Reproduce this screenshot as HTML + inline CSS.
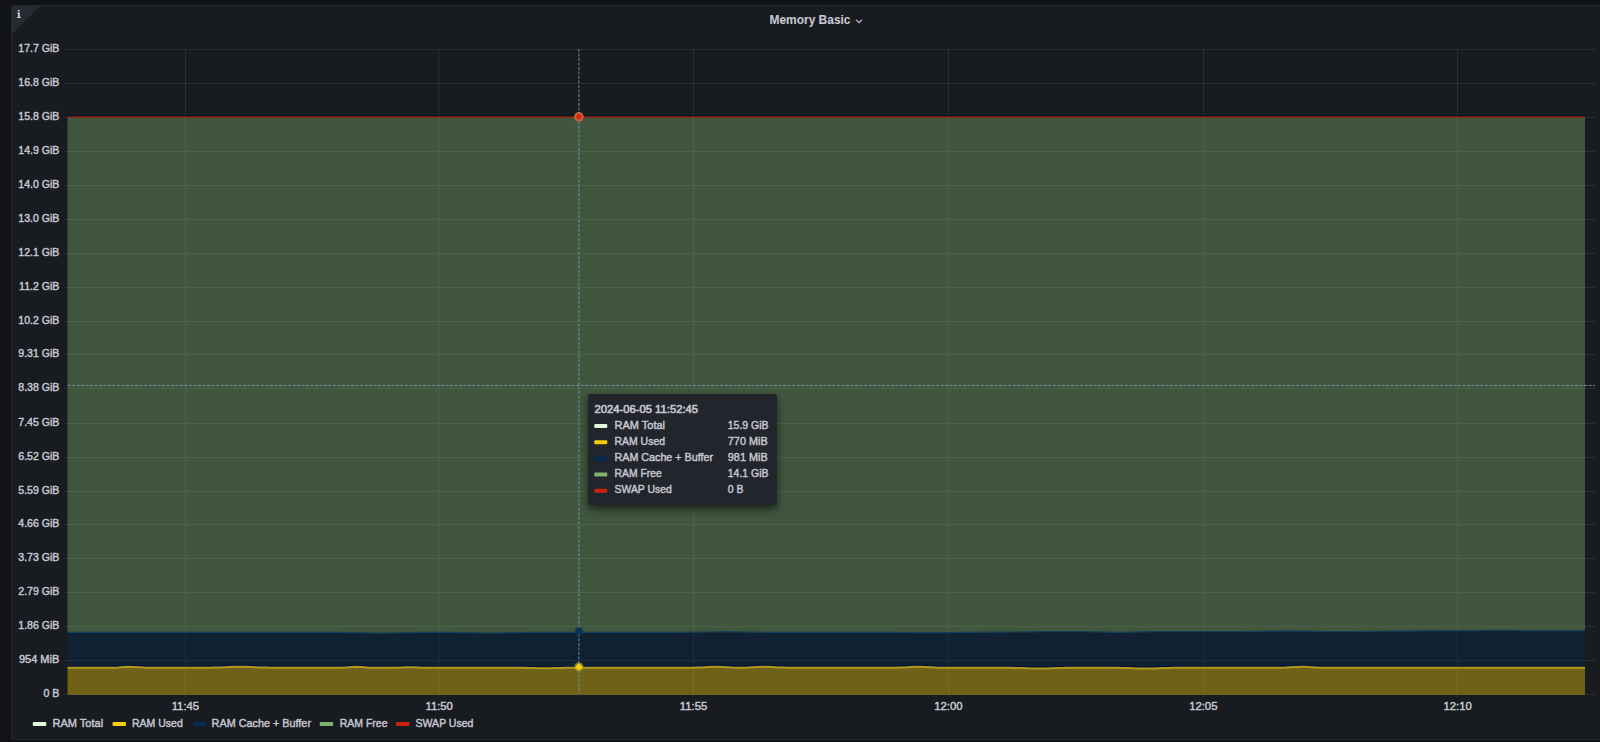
<!DOCTYPE html><html><head><meta charset="utf-8"><style>
html,body{margin:0;padding:0;width:1600px;height:742px;overflow:hidden;background:#111217;font-family:"Liberation Sans", sans-serif;}
.panel{position:absolute;left:11px;top:5px;width:1600px;height:735px;background:#181b1f;border:1px solid #24272c;border-radius:2px;box-sizing:border-box;}
svg{position:absolute;left:0;top:0;}
text{stroke:#c6c6d3;stroke-width:0.45px;paint-order:stroke;}
</style></head><body>
<div class="panel"></div>
<svg width="1600" height="742" viewBox="0 0 1600 742" font-family='"Liberation Sans", sans-serif'>

<path d="M13,6 L40,6 L12,34 L12,8 Z" fill="#262a31"/>
<path d="M17.8,9.9 H19.8 V11.5 H17.8 Z M17,12.4 H19.9 V16.9 H21 V18 H16.9 V16.9 H17.9 V13.4 H17 Z" fill="#c4c4d2"/>
<text x="769.5" y="24" font-size="13.5" font-weight="bold" style="stroke-width:0.1px" fill="#c6c6d3" textLength="81" lengthAdjust="spacingAndGlyphs">Memory Basic</text>
<path d="M856,19.8 L859,22.8 L862,19.8" fill="none" stroke="#a4a6b0" stroke-width="1.5"/>
<rect x="64" y="694" width="1531" height="1" fill="rgba(204,204,220,0.1)"/>
<rect x="64" y="660" width="1531" height="1" fill="rgba(204,204,220,0.1)"/>
<rect x="64" y="626" width="1531" height="1" fill="rgba(204,204,220,0.1)"/>
<rect x="64" y="592" width="1531" height="1" fill="rgba(204,204,220,0.1)"/>
<rect x="64" y="558" width="1531" height="1" fill="rgba(204,204,220,0.1)"/>
<rect x="64" y="524" width="1531" height="1" fill="rgba(204,204,220,0.1)"/>
<rect x="64" y="491" width="1531" height="1" fill="rgba(204,204,220,0.1)"/>
<rect x="64" y="457" width="1531" height="1" fill="rgba(204,204,220,0.1)"/>
<rect x="64" y="423" width="1531" height="1" fill="rgba(204,204,220,0.1)"/>
<rect x="64" y="388" width="1531" height="1" fill="rgba(204,204,220,0.1)"/>
<rect x="64" y="354" width="1531" height="1" fill="rgba(204,204,220,0.1)"/>
<rect x="64" y="321" width="1531" height="1" fill="rgba(204,204,220,0.1)"/>
<rect x="64" y="287" width="1531" height="1" fill="rgba(204,204,220,0.1)"/>
<rect x="64" y="253" width="1531" height="1" fill="rgba(204,204,220,0.1)"/>
<rect x="64" y="219" width="1531" height="1" fill="rgba(204,204,220,0.1)"/>
<rect x="64" y="185" width="1531" height="1" fill="rgba(204,204,220,0.1)"/>
<rect x="64" y="151" width="1531" height="1" fill="rgba(204,204,220,0.1)"/>
<rect x="64" y="117" width="1531" height="1" fill="rgba(204,204,220,0.1)"/>
<rect x="64" y="83" width="1531" height="1" fill="rgba(204,204,220,0.1)"/>
<rect x="64" y="49" width="1531" height="1" fill="rgba(204,204,220,0.1)"/>
<rect x="185" y="49" width="1" height="648" fill="rgba(204,204,220,0.1)"/>
<rect x="438.5" y="49" width="1" height="648" fill="rgba(204,204,220,0.1)"/>
<rect x="693" y="49" width="1" height="648" fill="rgba(204,204,220,0.1)"/>
<rect x="948" y="49" width="1" height="648" fill="rgba(204,204,220,0.1)"/>
<rect x="1203" y="49" width="1" height="648" fill="rgba(204,204,220,0.1)"/>
<rect x="1457" y="49" width="1" height="648" fill="rgba(204,204,220,0.1)"/>
<path d="M67.5,667.80 L72.6,667.80 L77.7,667.80 L82.7,667.80 L87.8,667.80 L92.9,667.80 L98.0,667.80 L103.0,667.79 L108.1,667.76 L113.2,667.66 L118.3,667.42 L123.3,667.07 L128.4,666.82 L133.5,666.88 L138.6,667.20 L143.6,667.52 L148.7,667.71 L153.8,667.78 L158.9,667.80 L163.9,667.80 L169.0,667.80 L174.1,667.80 L179.2,667.80 L184.2,667.80 L189.3,667.80 L194.4,667.79 L199.5,667.78 L204.5,667.76 L209.6,667.70 L214.7,667.60 L219.8,667.44 L224.8,667.24 L229.9,667.02 L235.0,666.86 L240.1,666.80 L245.1,666.86 L250.2,667.03 L255.3,667.24 L260.4,667.45 L265.4,667.60 L270.5,667.70 L275.6,667.76 L280.7,667.78 L285.7,667.79 L290.8,667.80 L295.9,667.80 L301.0,667.80 L306.0,667.80 L311.1,667.80 L316.2,667.80 L321.3,667.80 L326.3,667.80 L331.4,667.80 L336.5,667.78 L341.6,667.68 L346.6,667.38 L351.7,666.97 L356.8,666.81 L361.9,667.09 L366.9,667.50 L372.0,667.72 L377.1,667.79 L382.2,667.80 L387.2,667.80 L392.3,667.77 L397.4,667.66 L402.5,667.40 L407.5,667.14 L412.6,667.15 L417.7,667.41 L422.8,667.66 L427.8,667.77 L432.9,667.80 L438.0,667.80 L443.1,667.80 L448.1,667.80 L453.2,667.80 L458.3,667.80 L463.4,667.80 L468.4,667.80 L473.5,667.80 L478.6,667.80 L483.7,667.80 L488.7,667.80 L493.8,667.80 L498.9,667.80 L504.0,667.80 L509.0,667.80 L514.1,667.80 L519.2,667.82 L524.3,667.86 L529.3,667.94 L534.4,668.08 L539.5,668.23 L544.6,668.30 L549.6,668.25 L554.7,668.11 L559.8,667.96 L564.9,667.87 L569.9,667.82 L575.0,667.81 L580.1,667.80 L585.2,667.80 L590.3,667.80 L595.3,667.80 L600.4,667.80 L605.5,667.80 L610.6,667.80 L615.6,667.80 L620.7,667.80 L625.8,667.80 L630.9,667.80 L635.9,667.80 L641.0,667.80 L646.1,667.80 L651.2,667.80 L656.2,667.80 L661.3,667.80 L666.4,667.80 L671.5,667.80 L676.5,667.80 L681.6,667.80 L686.7,667.78 L691.8,667.74 L696.8,667.61 L701.9,667.38 L707.0,667.08 L712.1,666.84 L717.1,666.82 L722.2,667.03 L727.3,667.34 L732.4,667.58 L737.4,667.70 L742.5,667.70 L747.6,667.58 L752.7,667.34 L757.7,667.04 L762.8,666.82 L767.9,666.84 L773.0,667.08 L778.0,667.38 L783.1,667.61 L788.2,667.74 L793.3,667.78 L798.3,667.80 L803.4,667.80 L808.5,667.80 L813.6,667.80 L818.6,667.80 L823.7,667.80 L828.8,667.80 L833.9,667.80 L838.9,667.80 L844.0,667.80 L849.1,667.80 L854.2,667.80 L859.2,667.80 L864.3,667.80 L869.4,667.80 L874.5,667.80 L879.5,667.80 L884.6,667.80 L889.7,667.78 L894.8,667.74 L899.8,667.61 L904.9,667.38 L910.0,667.08 L915.1,666.84 L920.1,666.82 L925.2,667.03 L930.3,667.34 L935.4,667.59 L940.4,667.72 L945.5,667.78 L950.6,667.80 L955.7,667.80 L960.7,667.80 L965.8,667.80 L970.9,667.80 L976.0,667.80 L981.0,667.80 L986.1,667.80 L991.2,667.80 L996.3,667.80 L1001.3,667.80 L1006.4,667.81 L1011.5,667.83 L1016.6,667.89 L1021.6,668.01 L1026.7,668.20 L1031.8,668.42 L1036.9,668.57 L1041.9,668.59 L1047.0,668.46 L1052.1,668.25 L1057.2,668.05 L1062.2,667.92 L1067.3,667.84 L1072.4,667.81 L1077.5,667.80 L1082.6,667.80 L1087.6,667.80 L1092.7,667.80 L1097.8,667.80 L1102.9,667.80 L1107.9,667.80 L1113.0,667.81 L1118.1,667.85 L1123.2,667.92 L1128.2,668.07 L1133.3,668.27 L1138.4,668.47 L1143.5,668.59 L1148.5,668.56 L1153.6,668.40 L1158.7,668.19 L1163.8,668.00 L1168.8,667.89 L1173.9,667.83 L1179.0,667.81 L1184.1,667.80 L1189.1,667.80 L1194.2,667.80 L1199.3,667.80 L1204.4,667.80 L1209.4,667.80 L1214.5,667.80 L1219.6,667.80 L1224.7,667.80 L1229.7,667.80 L1234.8,667.80 L1239.9,667.80 L1245.0,667.80 L1250.0,667.80 L1255.1,667.80 L1260.2,667.80 L1265.3,667.80 L1270.3,667.79 L1275.4,667.77 L1280.5,667.71 L1285.6,667.55 L1290.6,667.28 L1295.7,666.98 L1300.8,666.81 L1305.9,666.87 L1310.9,667.13 L1316.0,667.43 L1321.1,667.64 L1326.2,667.75 L1331.2,667.79 L1336.3,667.80 L1341.4,667.80 L1346.5,667.80 L1351.5,667.80 L1356.6,667.80 L1361.7,667.80 L1366.8,667.80 L1371.8,667.80 L1376.9,667.80 L1382.0,667.80 L1387.1,667.80 L1392.1,667.80 L1397.2,667.80 L1402.3,667.80 L1407.4,667.80 L1412.4,667.80 L1417.5,667.80 L1422.6,667.80 L1427.7,667.80 L1432.7,667.80 L1437.8,667.80 L1442.9,667.80 L1448.0,667.80 L1453.0,667.80 L1458.1,667.80 L1463.2,667.80 L1468.3,667.80 L1473.3,667.80 L1478.4,667.80 L1483.5,667.80 L1488.6,667.80 L1493.6,667.80 L1498.7,667.80 L1503.8,667.80 L1508.9,667.80 L1513.9,667.80 L1519.0,667.80 L1524.1,667.80 L1529.2,667.80 L1534.2,667.80 L1539.3,667.80 L1544.4,667.80 L1549.5,667.80 L1554.5,667.80 L1559.6,667.80 L1564.7,667.80 L1569.8,667.80 L1574.8,667.80 L1579.9,667.80 L1585.0,667.80 L1585.0,694.80 L1579.9,694.80 L1574.8,694.80 L1569.8,694.80 L1564.7,694.80 L1559.6,694.80 L1554.5,694.80 L1549.5,694.80 L1544.4,694.80 L1539.3,694.80 L1534.2,694.80 L1529.2,694.80 L1524.1,694.80 L1519.0,694.80 L1513.9,694.80 L1508.9,694.80 L1503.8,694.80 L1498.7,694.80 L1493.6,694.80 L1488.6,694.80 L1483.5,694.80 L1478.4,694.80 L1473.3,694.80 L1468.3,694.80 L1463.2,694.80 L1458.1,694.80 L1453.0,694.80 L1448.0,694.80 L1442.9,694.80 L1437.8,694.80 L1432.7,694.80 L1427.7,694.80 L1422.6,694.80 L1417.5,694.80 L1412.4,694.80 L1407.4,694.80 L1402.3,694.80 L1397.2,694.80 L1392.1,694.80 L1387.1,694.80 L1382.0,694.80 L1376.9,694.80 L1371.8,694.80 L1366.8,694.80 L1361.7,694.80 L1356.6,694.80 L1351.5,694.80 L1346.5,694.80 L1341.4,694.80 L1336.3,694.80 L1331.2,694.80 L1326.2,694.80 L1321.1,694.80 L1316.0,694.80 L1310.9,694.80 L1305.9,694.80 L1300.8,694.80 L1295.7,694.80 L1290.6,694.80 L1285.6,694.80 L1280.5,694.80 L1275.4,694.80 L1270.3,694.80 L1265.3,694.80 L1260.2,694.80 L1255.1,694.80 L1250.0,694.80 L1245.0,694.80 L1239.9,694.80 L1234.8,694.80 L1229.7,694.80 L1224.7,694.80 L1219.6,694.80 L1214.5,694.80 L1209.4,694.80 L1204.4,694.80 L1199.3,694.80 L1194.2,694.80 L1189.1,694.80 L1184.1,694.80 L1179.0,694.80 L1173.9,694.80 L1168.8,694.80 L1163.8,694.80 L1158.7,694.80 L1153.6,694.80 L1148.5,694.80 L1143.5,694.80 L1138.4,694.80 L1133.3,694.80 L1128.2,694.80 L1123.2,694.80 L1118.1,694.80 L1113.0,694.80 L1107.9,694.80 L1102.9,694.80 L1097.8,694.80 L1092.7,694.80 L1087.6,694.80 L1082.6,694.80 L1077.5,694.80 L1072.4,694.80 L1067.3,694.80 L1062.2,694.80 L1057.2,694.80 L1052.1,694.80 L1047.0,694.80 L1041.9,694.80 L1036.9,694.80 L1031.8,694.80 L1026.7,694.80 L1021.6,694.80 L1016.6,694.80 L1011.5,694.80 L1006.4,694.80 L1001.3,694.80 L996.3,694.80 L991.2,694.80 L986.1,694.80 L981.0,694.80 L976.0,694.80 L970.9,694.80 L965.8,694.80 L960.7,694.80 L955.7,694.80 L950.6,694.80 L945.5,694.80 L940.4,694.80 L935.4,694.80 L930.3,694.80 L925.2,694.80 L920.1,694.80 L915.1,694.80 L910.0,694.80 L904.9,694.80 L899.8,694.80 L894.8,694.80 L889.7,694.80 L884.6,694.80 L879.5,694.80 L874.5,694.80 L869.4,694.80 L864.3,694.80 L859.2,694.80 L854.2,694.80 L849.1,694.80 L844.0,694.80 L838.9,694.80 L833.9,694.80 L828.8,694.80 L823.7,694.80 L818.6,694.80 L813.6,694.80 L808.5,694.80 L803.4,694.80 L798.3,694.80 L793.3,694.80 L788.2,694.80 L783.1,694.80 L778.0,694.80 L773.0,694.80 L767.9,694.80 L762.8,694.80 L757.7,694.80 L752.7,694.80 L747.6,694.80 L742.5,694.80 L737.4,694.80 L732.4,694.80 L727.3,694.80 L722.2,694.80 L717.1,694.80 L712.1,694.80 L707.0,694.80 L701.9,694.80 L696.8,694.80 L691.8,694.80 L686.7,694.80 L681.6,694.80 L676.5,694.80 L671.5,694.80 L666.4,694.80 L661.3,694.80 L656.2,694.80 L651.2,694.80 L646.1,694.80 L641.0,694.80 L635.9,694.80 L630.9,694.80 L625.8,694.80 L620.7,694.80 L615.6,694.80 L610.6,694.80 L605.5,694.80 L600.4,694.80 L595.3,694.80 L590.3,694.80 L585.2,694.80 L580.1,694.80 L575.0,694.80 L569.9,694.80 L564.9,694.80 L559.8,694.80 L554.7,694.80 L549.6,694.80 L544.6,694.80 L539.5,694.80 L534.4,694.80 L529.3,694.80 L524.3,694.80 L519.2,694.80 L514.1,694.80 L509.0,694.80 L504.0,694.80 L498.9,694.80 L493.8,694.80 L488.7,694.80 L483.7,694.80 L478.6,694.80 L473.5,694.80 L468.4,694.80 L463.4,694.80 L458.3,694.80 L453.2,694.80 L448.1,694.80 L443.1,694.80 L438.0,694.80 L432.9,694.80 L427.8,694.80 L422.8,694.80 L417.7,694.80 L412.6,694.80 L407.5,694.80 L402.5,694.80 L397.4,694.80 L392.3,694.80 L387.2,694.80 L382.2,694.80 L377.1,694.80 L372.0,694.80 L366.9,694.80 L361.9,694.80 L356.8,694.80 L351.7,694.80 L346.6,694.80 L341.6,694.80 L336.5,694.80 L331.4,694.80 L326.3,694.80 L321.3,694.80 L316.2,694.80 L311.1,694.80 L306.0,694.80 L301.0,694.80 L295.9,694.80 L290.8,694.80 L285.7,694.80 L280.7,694.80 L275.6,694.80 L270.5,694.80 L265.4,694.80 L260.4,694.80 L255.3,694.80 L250.2,694.80 L245.1,694.80 L240.1,694.80 L235.0,694.80 L229.9,694.80 L224.8,694.80 L219.8,694.80 L214.7,694.80 L209.6,694.80 L204.5,694.80 L199.5,694.80 L194.4,694.80 L189.3,694.80 L184.2,694.80 L179.2,694.80 L174.1,694.80 L169.0,694.80 L163.9,694.80 L158.9,694.80 L153.8,694.80 L148.7,694.80 L143.6,694.80 L138.6,694.80 L133.5,694.80 L128.4,694.80 L123.3,694.80 L118.3,694.80 L113.2,694.80 L108.1,694.80 L103.0,694.80 L98.0,694.80 L92.9,694.80 L87.8,694.80 L82.7,694.80 L77.7,694.80 L72.6,694.80 L67.5,694.80Z" fill="#F2CC0C" fill-opacity="0.4"/>
<path d="M67.5,632.30 L72.6,632.30 L77.7,632.30 L82.7,632.30 L87.8,632.30 L92.9,632.30 L98.0,632.30 L103.0,632.30 L108.1,632.30 L113.2,632.30 L118.3,632.30 L123.3,632.30 L128.4,632.30 L133.5,632.30 L138.6,632.30 L143.6,632.30 L148.7,632.30 L153.8,632.30 L158.9,632.30 L163.9,632.30 L169.0,632.30 L174.1,632.30 L179.2,632.30 L184.2,632.30 L189.3,632.30 L194.4,632.30 L199.5,632.30 L204.5,632.30 L209.6,632.30 L214.7,632.30 L219.8,632.30 L224.8,632.30 L229.9,632.30 L235.0,632.30 L240.1,632.30 L245.1,632.30 L250.2,632.30 L255.3,632.30 L260.4,632.30 L265.4,632.30 L270.5,632.30 L275.6,632.30 L280.7,632.30 L285.7,632.30 L290.8,632.30 L295.9,632.30 L301.0,632.30 L306.0,632.30 L311.1,632.30 L316.2,632.31 L321.3,632.32 L326.3,632.33 L331.4,632.36 L336.5,632.40 L341.6,632.45 L346.6,632.53 L351.7,632.63 L356.8,632.74 L361.9,632.86 L366.9,632.96 L372.0,633.05 L377.1,633.09 L382.2,633.10 L387.2,633.05 L392.3,632.98 L397.4,632.87 L402.5,632.76 L407.5,632.64 L412.6,632.55 L417.7,632.47 L422.8,632.41 L427.8,632.37 L432.9,632.35 L438.0,632.35 L443.1,632.37 L448.1,632.40 L453.2,632.46 L458.3,632.53 L463.4,632.62 L468.4,632.72 L473.5,632.82 L478.6,632.91 L483.7,632.97 L488.7,633.00 L493.8,632.99 L498.9,632.94 L504.0,632.86 L509.0,632.77 L514.1,632.67 L519.2,632.57 L524.3,632.49 L529.3,632.43 L534.4,632.38 L539.5,632.35 L544.6,632.33 L549.6,632.31 L554.7,632.31 L559.8,632.30 L564.9,632.30 L569.9,632.30 L575.0,632.30 L580.1,632.30 L585.2,632.30 L590.3,632.30 L595.3,632.30 L600.4,632.30 L605.5,632.30 L610.6,632.30 L615.6,632.30 L620.7,632.30 L625.8,632.30 L630.9,632.30 L635.9,632.30 L641.0,632.30 L646.1,632.30 L651.2,632.30 L656.2,632.30 L661.3,632.30 L666.4,632.30 L671.5,632.29 L676.5,632.29 L681.6,632.28 L686.7,632.25 L691.8,632.21 L696.8,632.16 L701.9,632.09 L707.0,632.00 L712.1,631.92 L717.1,631.85 L722.2,631.81 L727.3,631.80 L732.4,631.84 L737.4,631.91 L742.5,631.99 L747.6,632.08 L752.7,632.15 L757.7,632.21 L762.8,632.25 L767.9,632.27 L773.0,632.29 L778.0,632.29 L783.1,632.30 L788.2,632.30 L793.3,632.30 L798.3,632.30 L803.4,632.30 L808.5,632.30 L813.6,632.30 L818.6,632.30 L823.7,632.30 L828.8,632.30 L833.9,632.30 L838.9,632.30 L844.0,632.30 L849.1,632.30 L854.2,632.31 L859.2,632.31 L864.3,632.32 L869.4,632.33 L874.5,632.34 L879.5,632.36 L884.6,632.38 L889.7,632.41 L894.8,632.45 L899.8,632.48 L904.9,632.52 L910.0,632.55 L915.1,632.58 L920.1,632.60 L925.2,632.62 L930.3,632.62 L935.4,632.62 L940.4,632.60 L945.5,632.57 L950.6,632.53 L955.7,632.48 L960.7,632.42 L965.8,632.37 L970.9,632.31 L976.0,632.26 L981.0,632.22 L986.1,632.18 L991.2,632.14 L996.3,632.11 L1001.3,632.08 L1006.4,632.05 L1011.5,632.02 L1016.6,631.98 L1021.6,631.94 L1026.7,631.89 L1031.8,631.83 L1036.9,631.76 L1041.9,631.69 L1047.0,631.63 L1052.1,631.57 L1057.2,631.54 L1062.2,631.52 L1067.3,631.53 L1072.4,631.56 L1077.5,631.61 L1082.6,631.66 L1087.6,631.73 L1092.7,631.81 L1097.8,631.90 L1102.9,632.01 L1107.9,632.13 L1113.0,632.23 L1118.1,632.28 L1123.2,632.26 L1128.2,632.19 L1133.3,632.08 L1138.4,631.96 L1143.5,631.86 L1148.5,631.78 L1153.6,631.74 L1158.7,631.71 L1163.8,631.69 L1168.8,631.67 L1173.9,631.66 L1179.0,631.65 L1184.1,631.64 L1189.1,631.62 L1194.2,631.61 L1199.3,631.60 L1204.4,631.59 L1209.4,631.58 L1214.5,631.56 L1219.6,631.55 L1224.7,631.54 L1229.7,631.52 L1234.8,631.50 L1239.9,631.48 L1245.0,631.45 L1250.0,631.41 L1255.1,631.37 L1260.2,631.31 L1265.3,631.25 L1270.3,631.18 L1275.4,631.11 L1280.5,631.06 L1285.6,631.02 L1290.6,631.01 L1295.7,631.04 L1300.8,631.08 L1305.9,631.16 L1310.9,631.25 L1316.0,631.35 L1321.1,631.45 L1326.2,631.53 L1331.2,631.60 L1336.3,631.64 L1341.4,631.65 L1346.5,631.63 L1351.5,631.58 L1356.6,631.52 L1361.7,631.46 L1366.8,631.39 L1371.8,631.33 L1376.9,631.27 L1382.0,631.23 L1387.1,631.19 L1392.1,631.16 L1397.2,631.13 L1402.3,631.09 L1407.4,631.06 L1412.4,631.01 L1417.5,630.96 L1422.6,630.91 L1427.7,630.85 L1432.7,630.80 L1437.8,630.75 L1442.9,630.72 L1448.0,630.70 L1453.0,630.69 L1458.1,630.68 L1463.2,630.67 L1468.3,630.64 L1473.3,630.61 L1478.4,630.56 L1483.5,630.51 L1488.6,630.46 L1493.6,630.41 L1498.7,630.39 L1503.8,630.39 L1508.9,630.42 L1513.9,630.46 L1519.0,630.52 L1524.1,630.58 L1529.2,630.64 L1534.2,630.68 L1539.3,630.72 L1544.4,630.74 L1549.5,630.75 L1554.5,630.75 L1559.6,630.75 L1564.7,630.74 L1569.8,630.73 L1574.8,630.72 L1579.9,630.71 L1585.0,630.70 L1585.0,667.80 L1579.9,667.80 L1574.8,667.80 L1569.8,667.80 L1564.7,667.80 L1559.6,667.80 L1554.5,667.80 L1549.5,667.80 L1544.4,667.80 L1539.3,667.80 L1534.2,667.80 L1529.2,667.80 L1524.1,667.80 L1519.0,667.80 L1513.9,667.80 L1508.9,667.80 L1503.8,667.80 L1498.7,667.80 L1493.6,667.80 L1488.6,667.80 L1483.5,667.80 L1478.4,667.80 L1473.3,667.80 L1468.3,667.80 L1463.2,667.80 L1458.1,667.80 L1453.0,667.80 L1448.0,667.80 L1442.9,667.80 L1437.8,667.80 L1432.7,667.80 L1427.7,667.80 L1422.6,667.80 L1417.5,667.80 L1412.4,667.80 L1407.4,667.80 L1402.3,667.80 L1397.2,667.80 L1392.1,667.80 L1387.1,667.80 L1382.0,667.80 L1376.9,667.80 L1371.8,667.80 L1366.8,667.80 L1361.7,667.80 L1356.6,667.80 L1351.5,667.80 L1346.5,667.80 L1341.4,667.80 L1336.3,667.80 L1331.2,667.79 L1326.2,667.75 L1321.1,667.64 L1316.0,667.43 L1310.9,667.13 L1305.9,666.87 L1300.8,666.81 L1295.7,666.98 L1290.6,667.28 L1285.6,667.55 L1280.5,667.71 L1275.4,667.77 L1270.3,667.79 L1265.3,667.80 L1260.2,667.80 L1255.1,667.80 L1250.0,667.80 L1245.0,667.80 L1239.9,667.80 L1234.8,667.80 L1229.7,667.80 L1224.7,667.80 L1219.6,667.80 L1214.5,667.80 L1209.4,667.80 L1204.4,667.80 L1199.3,667.80 L1194.2,667.80 L1189.1,667.80 L1184.1,667.80 L1179.0,667.81 L1173.9,667.83 L1168.8,667.89 L1163.8,668.00 L1158.7,668.19 L1153.6,668.40 L1148.5,668.56 L1143.5,668.59 L1138.4,668.47 L1133.3,668.27 L1128.2,668.07 L1123.2,667.92 L1118.1,667.85 L1113.0,667.81 L1107.9,667.80 L1102.9,667.80 L1097.8,667.80 L1092.7,667.80 L1087.6,667.80 L1082.6,667.80 L1077.5,667.80 L1072.4,667.81 L1067.3,667.84 L1062.2,667.92 L1057.2,668.05 L1052.1,668.25 L1047.0,668.46 L1041.9,668.59 L1036.9,668.57 L1031.8,668.42 L1026.7,668.20 L1021.6,668.01 L1016.6,667.89 L1011.5,667.83 L1006.4,667.81 L1001.3,667.80 L996.3,667.80 L991.2,667.80 L986.1,667.80 L981.0,667.80 L976.0,667.80 L970.9,667.80 L965.8,667.80 L960.7,667.80 L955.7,667.80 L950.6,667.80 L945.5,667.78 L940.4,667.72 L935.4,667.59 L930.3,667.34 L925.2,667.03 L920.1,666.82 L915.1,666.84 L910.0,667.08 L904.9,667.38 L899.8,667.61 L894.8,667.74 L889.7,667.78 L884.6,667.80 L879.5,667.80 L874.5,667.80 L869.4,667.80 L864.3,667.80 L859.2,667.80 L854.2,667.80 L849.1,667.80 L844.0,667.80 L838.9,667.80 L833.9,667.80 L828.8,667.80 L823.7,667.80 L818.6,667.80 L813.6,667.80 L808.5,667.80 L803.4,667.80 L798.3,667.80 L793.3,667.78 L788.2,667.74 L783.1,667.61 L778.0,667.38 L773.0,667.08 L767.9,666.84 L762.8,666.82 L757.7,667.04 L752.7,667.34 L747.6,667.58 L742.5,667.70 L737.4,667.70 L732.4,667.58 L727.3,667.34 L722.2,667.03 L717.1,666.82 L712.1,666.84 L707.0,667.08 L701.9,667.38 L696.8,667.61 L691.8,667.74 L686.7,667.78 L681.6,667.80 L676.5,667.80 L671.5,667.80 L666.4,667.80 L661.3,667.80 L656.2,667.80 L651.2,667.80 L646.1,667.80 L641.0,667.80 L635.9,667.80 L630.9,667.80 L625.8,667.80 L620.7,667.80 L615.6,667.80 L610.6,667.80 L605.5,667.80 L600.4,667.80 L595.3,667.80 L590.3,667.80 L585.2,667.80 L580.1,667.80 L575.0,667.81 L569.9,667.82 L564.9,667.87 L559.8,667.96 L554.7,668.11 L549.6,668.25 L544.6,668.30 L539.5,668.23 L534.4,668.08 L529.3,667.94 L524.3,667.86 L519.2,667.82 L514.1,667.80 L509.0,667.80 L504.0,667.80 L498.9,667.80 L493.8,667.80 L488.7,667.80 L483.7,667.80 L478.6,667.80 L473.5,667.80 L468.4,667.80 L463.4,667.80 L458.3,667.80 L453.2,667.80 L448.1,667.80 L443.1,667.80 L438.0,667.80 L432.9,667.80 L427.8,667.77 L422.8,667.66 L417.7,667.41 L412.6,667.15 L407.5,667.14 L402.5,667.40 L397.4,667.66 L392.3,667.77 L387.2,667.80 L382.2,667.80 L377.1,667.79 L372.0,667.72 L366.9,667.50 L361.9,667.09 L356.8,666.81 L351.7,666.97 L346.6,667.38 L341.6,667.68 L336.5,667.78 L331.4,667.80 L326.3,667.80 L321.3,667.80 L316.2,667.80 L311.1,667.80 L306.0,667.80 L301.0,667.80 L295.9,667.80 L290.8,667.80 L285.7,667.79 L280.7,667.78 L275.6,667.76 L270.5,667.70 L265.4,667.60 L260.4,667.45 L255.3,667.24 L250.2,667.03 L245.1,666.86 L240.1,666.80 L235.0,666.86 L229.9,667.02 L224.8,667.24 L219.8,667.44 L214.7,667.60 L209.6,667.70 L204.5,667.76 L199.5,667.78 L194.4,667.79 L189.3,667.80 L184.2,667.80 L179.2,667.80 L174.1,667.80 L169.0,667.80 L163.9,667.80 L158.9,667.80 L153.8,667.78 L148.7,667.71 L143.6,667.52 L138.6,667.20 L133.5,666.88 L128.4,666.82 L123.3,667.07 L118.3,667.42 L113.2,667.66 L108.1,667.76 L103.0,667.79 L98.0,667.80 L92.9,667.80 L87.8,667.80 L82.7,667.80 L77.7,667.80 L72.6,667.80 L67.5,667.80Z" fill="#052B51" fill-opacity="0.4"/>
<path d="M67.5,117.40 L72.6,117.40 L77.7,117.40 L82.7,117.40 L87.8,117.40 L92.9,117.40 L98.0,117.40 L103.0,117.40 L108.1,117.40 L113.2,117.40 L118.3,117.40 L123.3,117.40 L128.4,117.40 L133.5,117.40 L138.6,117.40 L143.6,117.40 L148.7,117.40 L153.8,117.40 L158.9,117.40 L163.9,117.40 L169.0,117.40 L174.1,117.40 L179.2,117.40 L184.2,117.40 L189.3,117.40 L194.4,117.40 L199.5,117.40 L204.5,117.40 L209.6,117.40 L214.7,117.40 L219.8,117.40 L224.8,117.40 L229.9,117.40 L235.0,117.40 L240.1,117.40 L245.1,117.40 L250.2,117.40 L255.3,117.40 L260.4,117.40 L265.4,117.40 L270.5,117.40 L275.6,117.40 L280.7,117.40 L285.7,117.40 L290.8,117.40 L295.9,117.40 L301.0,117.40 L306.0,117.40 L311.1,117.40 L316.2,117.40 L321.3,117.40 L326.3,117.40 L331.4,117.40 L336.5,117.40 L341.6,117.40 L346.6,117.40 L351.7,117.40 L356.8,117.40 L361.9,117.40 L366.9,117.40 L372.0,117.40 L377.1,117.40 L382.2,117.40 L387.2,117.40 L392.3,117.40 L397.4,117.40 L402.5,117.40 L407.5,117.40 L412.6,117.40 L417.7,117.40 L422.8,117.40 L427.8,117.40 L432.9,117.40 L438.0,117.40 L443.1,117.40 L448.1,117.40 L453.2,117.40 L458.3,117.40 L463.4,117.40 L468.4,117.40 L473.5,117.40 L478.6,117.40 L483.7,117.40 L488.7,117.40 L493.8,117.40 L498.9,117.40 L504.0,117.40 L509.0,117.40 L514.1,117.40 L519.2,117.40 L524.3,117.40 L529.3,117.40 L534.4,117.40 L539.5,117.40 L544.6,117.40 L549.6,117.40 L554.7,117.40 L559.8,117.40 L564.9,117.40 L569.9,117.40 L575.0,117.40 L580.1,117.40 L585.2,117.40 L590.3,117.40 L595.3,117.40 L600.4,117.40 L605.5,117.40 L610.6,117.40 L615.6,117.40 L620.7,117.40 L625.8,117.40 L630.9,117.40 L635.9,117.40 L641.0,117.40 L646.1,117.40 L651.2,117.40 L656.2,117.40 L661.3,117.40 L666.4,117.40 L671.5,117.40 L676.5,117.40 L681.6,117.40 L686.7,117.40 L691.8,117.40 L696.8,117.40 L701.9,117.40 L707.0,117.40 L712.1,117.40 L717.1,117.40 L722.2,117.40 L727.3,117.40 L732.4,117.40 L737.4,117.40 L742.5,117.40 L747.6,117.40 L752.7,117.40 L757.7,117.40 L762.8,117.40 L767.9,117.40 L773.0,117.40 L778.0,117.40 L783.1,117.40 L788.2,117.40 L793.3,117.40 L798.3,117.40 L803.4,117.40 L808.5,117.40 L813.6,117.40 L818.6,117.40 L823.7,117.40 L828.8,117.40 L833.9,117.40 L838.9,117.40 L844.0,117.40 L849.1,117.40 L854.2,117.40 L859.2,117.40 L864.3,117.40 L869.4,117.40 L874.5,117.40 L879.5,117.40 L884.6,117.40 L889.7,117.40 L894.8,117.40 L899.8,117.40 L904.9,117.40 L910.0,117.40 L915.1,117.40 L920.1,117.40 L925.2,117.40 L930.3,117.40 L935.4,117.40 L940.4,117.40 L945.5,117.40 L950.6,117.40 L955.7,117.40 L960.7,117.40 L965.8,117.40 L970.9,117.40 L976.0,117.40 L981.0,117.40 L986.1,117.40 L991.2,117.40 L996.3,117.40 L1001.3,117.40 L1006.4,117.40 L1011.5,117.40 L1016.6,117.40 L1021.6,117.40 L1026.7,117.40 L1031.8,117.40 L1036.9,117.40 L1041.9,117.40 L1047.0,117.40 L1052.1,117.40 L1057.2,117.40 L1062.2,117.40 L1067.3,117.40 L1072.4,117.40 L1077.5,117.40 L1082.6,117.40 L1087.6,117.40 L1092.7,117.40 L1097.8,117.40 L1102.9,117.40 L1107.9,117.40 L1113.0,117.40 L1118.1,117.40 L1123.2,117.40 L1128.2,117.40 L1133.3,117.40 L1138.4,117.40 L1143.5,117.40 L1148.5,117.40 L1153.6,117.40 L1158.7,117.40 L1163.8,117.40 L1168.8,117.40 L1173.9,117.40 L1179.0,117.40 L1184.1,117.40 L1189.1,117.40 L1194.2,117.40 L1199.3,117.40 L1204.4,117.40 L1209.4,117.40 L1214.5,117.40 L1219.6,117.40 L1224.7,117.40 L1229.7,117.40 L1234.8,117.40 L1239.9,117.40 L1245.0,117.40 L1250.0,117.40 L1255.1,117.40 L1260.2,117.40 L1265.3,117.40 L1270.3,117.40 L1275.4,117.40 L1280.5,117.40 L1285.6,117.40 L1290.6,117.40 L1295.7,117.40 L1300.8,117.40 L1305.9,117.40 L1310.9,117.40 L1316.0,117.40 L1321.1,117.40 L1326.2,117.40 L1331.2,117.40 L1336.3,117.40 L1341.4,117.40 L1346.5,117.40 L1351.5,117.40 L1356.6,117.40 L1361.7,117.40 L1366.8,117.40 L1371.8,117.40 L1376.9,117.40 L1382.0,117.40 L1387.1,117.40 L1392.1,117.40 L1397.2,117.40 L1402.3,117.40 L1407.4,117.40 L1412.4,117.40 L1417.5,117.40 L1422.6,117.40 L1427.7,117.40 L1432.7,117.40 L1437.8,117.40 L1442.9,117.40 L1448.0,117.40 L1453.0,117.40 L1458.1,117.40 L1463.2,117.40 L1468.3,117.40 L1473.3,117.40 L1478.4,117.40 L1483.5,117.40 L1488.6,117.40 L1493.6,117.40 L1498.7,117.40 L1503.8,117.40 L1508.9,117.40 L1513.9,117.40 L1519.0,117.40 L1524.1,117.40 L1529.2,117.40 L1534.2,117.40 L1539.3,117.40 L1544.4,117.40 L1549.5,117.40 L1554.5,117.40 L1559.6,117.40 L1564.7,117.40 L1569.8,117.40 L1574.8,117.40 L1579.9,117.40 L1585.0,117.40 L1585.0,630.70 L1579.9,630.71 L1574.8,630.72 L1569.8,630.73 L1564.7,630.74 L1559.6,630.75 L1554.5,630.75 L1549.5,630.75 L1544.4,630.74 L1539.3,630.72 L1534.2,630.68 L1529.2,630.64 L1524.1,630.58 L1519.0,630.52 L1513.9,630.46 L1508.9,630.42 L1503.8,630.39 L1498.7,630.39 L1493.6,630.41 L1488.6,630.46 L1483.5,630.51 L1478.4,630.56 L1473.3,630.61 L1468.3,630.64 L1463.2,630.67 L1458.1,630.68 L1453.0,630.69 L1448.0,630.70 L1442.9,630.72 L1437.8,630.75 L1432.7,630.80 L1427.7,630.85 L1422.6,630.91 L1417.5,630.96 L1412.4,631.01 L1407.4,631.06 L1402.3,631.09 L1397.2,631.13 L1392.1,631.16 L1387.1,631.19 L1382.0,631.23 L1376.9,631.27 L1371.8,631.33 L1366.8,631.39 L1361.7,631.46 L1356.6,631.52 L1351.5,631.58 L1346.5,631.63 L1341.4,631.65 L1336.3,631.64 L1331.2,631.60 L1326.2,631.53 L1321.1,631.45 L1316.0,631.35 L1310.9,631.25 L1305.9,631.16 L1300.8,631.08 L1295.7,631.04 L1290.6,631.01 L1285.6,631.02 L1280.5,631.06 L1275.4,631.11 L1270.3,631.18 L1265.3,631.25 L1260.2,631.31 L1255.1,631.37 L1250.0,631.41 L1245.0,631.45 L1239.9,631.48 L1234.8,631.50 L1229.7,631.52 L1224.7,631.54 L1219.6,631.55 L1214.5,631.56 L1209.4,631.58 L1204.4,631.59 L1199.3,631.60 L1194.2,631.61 L1189.1,631.62 L1184.1,631.64 L1179.0,631.65 L1173.9,631.66 L1168.8,631.67 L1163.8,631.69 L1158.7,631.71 L1153.6,631.74 L1148.5,631.78 L1143.5,631.86 L1138.4,631.96 L1133.3,632.08 L1128.2,632.19 L1123.2,632.26 L1118.1,632.28 L1113.0,632.23 L1107.9,632.13 L1102.9,632.01 L1097.8,631.90 L1092.7,631.81 L1087.6,631.73 L1082.6,631.66 L1077.5,631.61 L1072.4,631.56 L1067.3,631.53 L1062.2,631.52 L1057.2,631.54 L1052.1,631.57 L1047.0,631.63 L1041.9,631.69 L1036.9,631.76 L1031.8,631.83 L1026.7,631.89 L1021.6,631.94 L1016.6,631.98 L1011.5,632.02 L1006.4,632.05 L1001.3,632.08 L996.3,632.11 L991.2,632.14 L986.1,632.18 L981.0,632.22 L976.0,632.26 L970.9,632.31 L965.8,632.37 L960.7,632.42 L955.7,632.48 L950.6,632.53 L945.5,632.57 L940.4,632.60 L935.4,632.62 L930.3,632.62 L925.2,632.62 L920.1,632.60 L915.1,632.58 L910.0,632.55 L904.9,632.52 L899.8,632.48 L894.8,632.45 L889.7,632.41 L884.6,632.38 L879.5,632.36 L874.5,632.34 L869.4,632.33 L864.3,632.32 L859.2,632.31 L854.2,632.31 L849.1,632.30 L844.0,632.30 L838.9,632.30 L833.9,632.30 L828.8,632.30 L823.7,632.30 L818.6,632.30 L813.6,632.30 L808.5,632.30 L803.4,632.30 L798.3,632.30 L793.3,632.30 L788.2,632.30 L783.1,632.30 L778.0,632.29 L773.0,632.29 L767.9,632.27 L762.8,632.25 L757.7,632.21 L752.7,632.15 L747.6,632.08 L742.5,631.99 L737.4,631.91 L732.4,631.84 L727.3,631.80 L722.2,631.81 L717.1,631.85 L712.1,631.92 L707.0,632.00 L701.9,632.09 L696.8,632.16 L691.8,632.21 L686.7,632.25 L681.6,632.28 L676.5,632.29 L671.5,632.29 L666.4,632.30 L661.3,632.30 L656.2,632.30 L651.2,632.30 L646.1,632.30 L641.0,632.30 L635.9,632.30 L630.9,632.30 L625.8,632.30 L620.7,632.30 L615.6,632.30 L610.6,632.30 L605.5,632.30 L600.4,632.30 L595.3,632.30 L590.3,632.30 L585.2,632.30 L580.1,632.30 L575.0,632.30 L569.9,632.30 L564.9,632.30 L559.8,632.30 L554.7,632.31 L549.6,632.31 L544.6,632.33 L539.5,632.35 L534.4,632.38 L529.3,632.43 L524.3,632.49 L519.2,632.57 L514.1,632.67 L509.0,632.77 L504.0,632.86 L498.9,632.94 L493.8,632.99 L488.7,633.00 L483.7,632.97 L478.6,632.91 L473.5,632.82 L468.4,632.72 L463.4,632.62 L458.3,632.53 L453.2,632.46 L448.1,632.40 L443.1,632.37 L438.0,632.35 L432.9,632.35 L427.8,632.37 L422.8,632.41 L417.7,632.47 L412.6,632.55 L407.5,632.64 L402.5,632.76 L397.4,632.87 L392.3,632.98 L387.2,633.05 L382.2,633.10 L377.1,633.09 L372.0,633.05 L366.9,632.96 L361.9,632.86 L356.8,632.74 L351.7,632.63 L346.6,632.53 L341.6,632.45 L336.5,632.40 L331.4,632.36 L326.3,632.33 L321.3,632.32 L316.2,632.31 L311.1,632.30 L306.0,632.30 L301.0,632.30 L295.9,632.30 L290.8,632.30 L285.7,632.30 L280.7,632.30 L275.6,632.30 L270.5,632.30 L265.4,632.30 L260.4,632.30 L255.3,632.30 L250.2,632.30 L245.1,632.30 L240.1,632.30 L235.0,632.30 L229.9,632.30 L224.8,632.30 L219.8,632.30 L214.7,632.30 L209.6,632.30 L204.5,632.30 L199.5,632.30 L194.4,632.30 L189.3,632.30 L184.2,632.30 L179.2,632.30 L174.1,632.30 L169.0,632.30 L163.9,632.30 L158.9,632.30 L153.8,632.30 L148.7,632.30 L143.6,632.30 L138.6,632.30 L133.5,632.30 L128.4,632.30 L123.3,632.30 L118.3,632.30 L113.2,632.30 L108.1,632.30 L103.0,632.30 L98.0,632.30 L92.9,632.30 L87.8,632.30 L82.7,632.30 L77.7,632.30 L72.6,632.30 L67.5,632.30Z" fill="#7EB26D" fill-opacity="0.4"/>
<path d="M67.5,666.30 L72.6,666.30 L77.7,666.30 L82.7,666.30 L87.8,666.30 L92.9,666.30 L98.0,666.30 L103.0,666.29 L108.1,666.26 L113.2,666.16 L118.3,665.92 L123.3,665.57 L128.4,665.32 L133.5,665.38 L138.6,665.70 L143.6,666.02 L148.7,666.21 L153.8,666.28 L158.9,666.30 L163.9,666.30 L169.0,666.30 L174.1,666.30 L179.2,666.30 L184.2,666.30 L189.3,666.30 L194.4,666.29 L199.5,666.28 L204.5,666.26 L209.6,666.20 L214.7,666.10 L219.8,665.94 L224.8,665.74 L229.9,665.52 L235.0,665.36 L240.1,665.30 L245.1,665.36 L250.2,665.53 L255.3,665.74 L260.4,665.95 L265.4,666.10 L270.5,666.20 L275.6,666.26 L280.7,666.28 L285.7,666.29 L290.8,666.30 L295.9,666.30 L301.0,666.30 L306.0,666.30 L311.1,666.30 L316.2,666.30 L321.3,666.30 L326.3,666.30 L331.4,666.30 L336.5,666.28 L341.6,666.18 L346.6,665.88 L351.7,665.47 L356.8,665.31 L361.9,665.59 L366.9,666.00 L372.0,666.22 L377.1,666.29 L382.2,666.30 L387.2,666.30 L392.3,666.27 L397.4,666.16 L402.5,665.90 L407.5,665.64 L412.6,665.65 L417.7,665.91 L422.8,666.16 L427.8,666.27 L432.9,666.30 L438.0,666.30 L443.1,666.30 L448.1,666.30 L453.2,666.30 L458.3,666.30 L463.4,666.30 L468.4,666.30 L473.5,666.30 L478.6,666.30 L483.7,666.30 L488.7,666.30 L493.8,666.30 L498.9,666.30 L504.0,666.30 L509.0,666.30 L514.1,666.30 L519.2,666.32 L524.3,666.36 L529.3,666.44 L534.4,666.58 L539.5,666.73 L544.6,666.80 L549.6,666.75 L554.7,666.61 L559.8,666.46 L564.9,666.37 L569.9,666.32 L575.0,666.31 L580.1,666.30 L585.2,666.30 L590.3,666.30 L595.3,666.30 L600.4,666.30 L605.5,666.30 L610.6,666.30 L615.6,666.30 L620.7,666.30 L625.8,666.30 L630.9,666.30 L635.9,666.30 L641.0,666.30 L646.1,666.30 L651.2,666.30 L656.2,666.30 L661.3,666.30 L666.4,666.30 L671.5,666.30 L676.5,666.30 L681.6,666.30 L686.7,666.28 L691.8,666.24 L696.8,666.11 L701.9,665.88 L707.0,665.58 L712.1,665.34 L717.1,665.32 L722.2,665.53 L727.3,665.84 L732.4,666.08 L737.4,666.20 L742.5,666.20 L747.6,666.08 L752.7,665.84 L757.7,665.54 L762.8,665.32 L767.9,665.34 L773.0,665.58 L778.0,665.88 L783.1,666.11 L788.2,666.24 L793.3,666.28 L798.3,666.30 L803.4,666.30 L808.5,666.30 L813.6,666.30 L818.6,666.30 L823.7,666.30 L828.8,666.30 L833.9,666.30 L838.9,666.30 L844.0,666.30 L849.1,666.30 L854.2,666.30 L859.2,666.30 L864.3,666.30 L869.4,666.30 L874.5,666.30 L879.5,666.30 L884.6,666.30 L889.7,666.28 L894.8,666.24 L899.8,666.11 L904.9,665.88 L910.0,665.58 L915.1,665.34 L920.1,665.32 L925.2,665.53 L930.3,665.84 L935.4,666.09 L940.4,666.22 L945.5,666.28 L950.6,666.30 L955.7,666.30 L960.7,666.30 L965.8,666.30 L970.9,666.30 L976.0,666.30 L981.0,666.30 L986.1,666.30 L991.2,666.30 L996.3,666.30 L1001.3,666.30 L1006.4,666.31 L1011.5,666.33 L1016.6,666.39 L1021.6,666.51 L1026.7,666.70 L1031.8,666.92 L1036.9,667.07 L1041.9,667.09 L1047.0,666.96 L1052.1,666.75 L1057.2,666.55 L1062.2,666.42 L1067.3,666.34 L1072.4,666.31 L1077.5,666.30 L1082.6,666.30 L1087.6,666.30 L1092.7,666.30 L1097.8,666.30 L1102.9,666.30 L1107.9,666.30 L1113.0,666.31 L1118.1,666.35 L1123.2,666.42 L1128.2,666.57 L1133.3,666.77 L1138.4,666.97 L1143.5,667.09 L1148.5,667.06 L1153.6,666.90 L1158.7,666.69 L1163.8,666.50 L1168.8,666.39 L1173.9,666.33 L1179.0,666.31 L1184.1,666.30 L1189.1,666.30 L1194.2,666.30 L1199.3,666.30 L1204.4,666.30 L1209.4,666.30 L1214.5,666.30 L1219.6,666.30 L1224.7,666.30 L1229.7,666.30 L1234.8,666.30 L1239.9,666.30 L1245.0,666.30 L1250.0,666.30 L1255.1,666.30 L1260.2,666.30 L1265.3,666.30 L1270.3,666.29 L1275.4,666.27 L1280.5,666.21 L1285.6,666.05 L1290.6,665.78 L1295.7,665.48 L1300.8,665.31 L1305.9,665.37 L1310.9,665.63 L1316.0,665.93 L1321.1,666.14 L1326.2,666.25 L1331.2,666.29 L1336.3,666.30 L1341.4,666.30 L1346.5,666.30 L1351.5,666.30 L1356.6,666.30 L1361.7,666.30 L1366.8,666.30 L1371.8,666.30 L1376.9,666.30 L1382.0,666.30 L1387.1,666.30 L1392.1,666.30 L1397.2,666.30 L1402.3,666.30 L1407.4,666.30 L1412.4,666.30 L1417.5,666.30 L1422.6,666.30 L1427.7,666.30 L1432.7,666.30 L1437.8,666.30 L1442.9,666.30 L1448.0,666.30 L1453.0,666.30 L1458.1,666.30 L1463.2,666.30 L1468.3,666.30 L1473.3,666.30 L1478.4,666.30 L1483.5,666.30 L1488.6,666.30 L1493.6,666.30 L1498.7,666.30 L1503.8,666.30 L1508.9,666.30 L1513.9,666.30 L1519.0,666.30 L1524.1,666.30 L1529.2,666.30 L1534.2,666.30 L1539.3,666.30 L1544.4,666.30 L1549.5,666.30 L1554.5,666.30 L1559.6,666.30 L1564.7,666.30 L1569.8,666.30 L1574.8,666.30 L1579.9,666.30 L1585.0,666.30" fill="none" stroke="#02043a" stroke-width="1" opacity="0.9"/>
<path d="M67.5,667.80 L72.6,667.80 L77.7,667.80 L82.7,667.80 L87.8,667.80 L92.9,667.80 L98.0,667.80 L103.0,667.79 L108.1,667.76 L113.2,667.66 L118.3,667.42 L123.3,667.07 L128.4,666.82 L133.5,666.88 L138.6,667.20 L143.6,667.52 L148.7,667.71 L153.8,667.78 L158.9,667.80 L163.9,667.80 L169.0,667.80 L174.1,667.80 L179.2,667.80 L184.2,667.80 L189.3,667.80 L194.4,667.79 L199.5,667.78 L204.5,667.76 L209.6,667.70 L214.7,667.60 L219.8,667.44 L224.8,667.24 L229.9,667.02 L235.0,666.86 L240.1,666.80 L245.1,666.86 L250.2,667.03 L255.3,667.24 L260.4,667.45 L265.4,667.60 L270.5,667.70 L275.6,667.76 L280.7,667.78 L285.7,667.79 L290.8,667.80 L295.9,667.80 L301.0,667.80 L306.0,667.80 L311.1,667.80 L316.2,667.80 L321.3,667.80 L326.3,667.80 L331.4,667.80 L336.5,667.78 L341.6,667.68 L346.6,667.38 L351.7,666.97 L356.8,666.81 L361.9,667.09 L366.9,667.50 L372.0,667.72 L377.1,667.79 L382.2,667.80 L387.2,667.80 L392.3,667.77 L397.4,667.66 L402.5,667.40 L407.5,667.14 L412.6,667.15 L417.7,667.41 L422.8,667.66 L427.8,667.77 L432.9,667.80 L438.0,667.80 L443.1,667.80 L448.1,667.80 L453.2,667.80 L458.3,667.80 L463.4,667.80 L468.4,667.80 L473.5,667.80 L478.6,667.80 L483.7,667.80 L488.7,667.80 L493.8,667.80 L498.9,667.80 L504.0,667.80 L509.0,667.80 L514.1,667.80 L519.2,667.82 L524.3,667.86 L529.3,667.94 L534.4,668.08 L539.5,668.23 L544.6,668.30 L549.6,668.25 L554.7,668.11 L559.8,667.96 L564.9,667.87 L569.9,667.82 L575.0,667.81 L580.1,667.80 L585.2,667.80 L590.3,667.80 L595.3,667.80 L600.4,667.80 L605.5,667.80 L610.6,667.80 L615.6,667.80 L620.7,667.80 L625.8,667.80 L630.9,667.80 L635.9,667.80 L641.0,667.80 L646.1,667.80 L651.2,667.80 L656.2,667.80 L661.3,667.80 L666.4,667.80 L671.5,667.80 L676.5,667.80 L681.6,667.80 L686.7,667.78 L691.8,667.74 L696.8,667.61 L701.9,667.38 L707.0,667.08 L712.1,666.84 L717.1,666.82 L722.2,667.03 L727.3,667.34 L732.4,667.58 L737.4,667.70 L742.5,667.70 L747.6,667.58 L752.7,667.34 L757.7,667.04 L762.8,666.82 L767.9,666.84 L773.0,667.08 L778.0,667.38 L783.1,667.61 L788.2,667.74 L793.3,667.78 L798.3,667.80 L803.4,667.80 L808.5,667.80 L813.6,667.80 L818.6,667.80 L823.7,667.80 L828.8,667.80 L833.9,667.80 L838.9,667.80 L844.0,667.80 L849.1,667.80 L854.2,667.80 L859.2,667.80 L864.3,667.80 L869.4,667.80 L874.5,667.80 L879.5,667.80 L884.6,667.80 L889.7,667.78 L894.8,667.74 L899.8,667.61 L904.9,667.38 L910.0,667.08 L915.1,666.84 L920.1,666.82 L925.2,667.03 L930.3,667.34 L935.4,667.59 L940.4,667.72 L945.5,667.78 L950.6,667.80 L955.7,667.80 L960.7,667.80 L965.8,667.80 L970.9,667.80 L976.0,667.80 L981.0,667.80 L986.1,667.80 L991.2,667.80 L996.3,667.80 L1001.3,667.80 L1006.4,667.81 L1011.5,667.83 L1016.6,667.89 L1021.6,668.01 L1026.7,668.20 L1031.8,668.42 L1036.9,668.57 L1041.9,668.59 L1047.0,668.46 L1052.1,668.25 L1057.2,668.05 L1062.2,667.92 L1067.3,667.84 L1072.4,667.81 L1077.5,667.80 L1082.6,667.80 L1087.6,667.80 L1092.7,667.80 L1097.8,667.80 L1102.9,667.80 L1107.9,667.80 L1113.0,667.81 L1118.1,667.85 L1123.2,667.92 L1128.2,668.07 L1133.3,668.27 L1138.4,668.47 L1143.5,668.59 L1148.5,668.56 L1153.6,668.40 L1158.7,668.19 L1163.8,668.00 L1168.8,667.89 L1173.9,667.83 L1179.0,667.81 L1184.1,667.80 L1189.1,667.80 L1194.2,667.80 L1199.3,667.80 L1204.4,667.80 L1209.4,667.80 L1214.5,667.80 L1219.6,667.80 L1224.7,667.80 L1229.7,667.80 L1234.8,667.80 L1239.9,667.80 L1245.0,667.80 L1250.0,667.80 L1255.1,667.80 L1260.2,667.80 L1265.3,667.80 L1270.3,667.79 L1275.4,667.77 L1280.5,667.71 L1285.6,667.55 L1290.6,667.28 L1295.7,666.98 L1300.8,666.81 L1305.9,666.87 L1310.9,667.13 L1316.0,667.43 L1321.1,667.64 L1326.2,667.75 L1331.2,667.79 L1336.3,667.80 L1341.4,667.80 L1346.5,667.80 L1351.5,667.80 L1356.6,667.80 L1361.7,667.80 L1366.8,667.80 L1371.8,667.80 L1376.9,667.80 L1382.0,667.80 L1387.1,667.80 L1392.1,667.80 L1397.2,667.80 L1402.3,667.80 L1407.4,667.80 L1412.4,667.80 L1417.5,667.80 L1422.6,667.80 L1427.7,667.80 L1432.7,667.80 L1437.8,667.80 L1442.9,667.80 L1448.0,667.80 L1453.0,667.80 L1458.1,667.80 L1463.2,667.80 L1468.3,667.80 L1473.3,667.80 L1478.4,667.80 L1483.5,667.80 L1488.6,667.80 L1493.6,667.80 L1498.7,667.80 L1503.8,667.80 L1508.9,667.80 L1513.9,667.80 L1519.0,667.80 L1524.1,667.80 L1529.2,667.80 L1534.2,667.80 L1539.3,667.80 L1544.4,667.80 L1549.5,667.80 L1554.5,667.80 L1559.6,667.80 L1564.7,667.80 L1569.8,667.80 L1574.8,667.80 L1579.9,667.80 L1585.0,667.80" fill="none" stroke="#b09a1e" stroke-width="2"/>
<path d="M67.5,632.30 L72.6,632.30 L77.7,632.30 L82.7,632.30 L87.8,632.30 L92.9,632.30 L98.0,632.30 L103.0,632.30 L108.1,632.30 L113.2,632.30 L118.3,632.30 L123.3,632.30 L128.4,632.30 L133.5,632.30 L138.6,632.30 L143.6,632.30 L148.7,632.30 L153.8,632.30 L158.9,632.30 L163.9,632.30 L169.0,632.30 L174.1,632.30 L179.2,632.30 L184.2,632.30 L189.3,632.30 L194.4,632.30 L199.5,632.30 L204.5,632.30 L209.6,632.30 L214.7,632.30 L219.8,632.30 L224.8,632.30 L229.9,632.30 L235.0,632.30 L240.1,632.30 L245.1,632.30 L250.2,632.30 L255.3,632.30 L260.4,632.30 L265.4,632.30 L270.5,632.30 L275.6,632.30 L280.7,632.30 L285.7,632.30 L290.8,632.30 L295.9,632.30 L301.0,632.30 L306.0,632.30 L311.1,632.30 L316.2,632.31 L321.3,632.32 L326.3,632.33 L331.4,632.36 L336.5,632.40 L341.6,632.45 L346.6,632.53 L351.7,632.63 L356.8,632.74 L361.9,632.86 L366.9,632.96 L372.0,633.05 L377.1,633.09 L382.2,633.10 L387.2,633.05 L392.3,632.98 L397.4,632.87 L402.5,632.76 L407.5,632.64 L412.6,632.55 L417.7,632.47 L422.8,632.41 L427.8,632.37 L432.9,632.35 L438.0,632.35 L443.1,632.37 L448.1,632.40 L453.2,632.46 L458.3,632.53 L463.4,632.62 L468.4,632.72 L473.5,632.82 L478.6,632.91 L483.7,632.97 L488.7,633.00 L493.8,632.99 L498.9,632.94 L504.0,632.86 L509.0,632.77 L514.1,632.67 L519.2,632.57 L524.3,632.49 L529.3,632.43 L534.4,632.38 L539.5,632.35 L544.6,632.33 L549.6,632.31 L554.7,632.31 L559.8,632.30 L564.9,632.30 L569.9,632.30 L575.0,632.30 L580.1,632.30 L585.2,632.30 L590.3,632.30 L595.3,632.30 L600.4,632.30 L605.5,632.30 L610.6,632.30 L615.6,632.30 L620.7,632.30 L625.8,632.30 L630.9,632.30 L635.9,632.30 L641.0,632.30 L646.1,632.30 L651.2,632.30 L656.2,632.30 L661.3,632.30 L666.4,632.30 L671.5,632.29 L676.5,632.29 L681.6,632.28 L686.7,632.25 L691.8,632.21 L696.8,632.16 L701.9,632.09 L707.0,632.00 L712.1,631.92 L717.1,631.85 L722.2,631.81 L727.3,631.80 L732.4,631.84 L737.4,631.91 L742.5,631.99 L747.6,632.08 L752.7,632.15 L757.7,632.21 L762.8,632.25 L767.9,632.27 L773.0,632.29 L778.0,632.29 L783.1,632.30 L788.2,632.30 L793.3,632.30 L798.3,632.30 L803.4,632.30 L808.5,632.30 L813.6,632.30 L818.6,632.30 L823.7,632.30 L828.8,632.30 L833.9,632.30 L838.9,632.30 L844.0,632.30 L849.1,632.30 L854.2,632.31 L859.2,632.31 L864.3,632.32 L869.4,632.33 L874.5,632.34 L879.5,632.36 L884.6,632.38 L889.7,632.41 L894.8,632.45 L899.8,632.48 L904.9,632.52 L910.0,632.55 L915.1,632.58 L920.1,632.60 L925.2,632.62 L930.3,632.62 L935.4,632.62 L940.4,632.60 L945.5,632.57 L950.6,632.53 L955.7,632.48 L960.7,632.42 L965.8,632.37 L970.9,632.31 L976.0,632.26 L981.0,632.22 L986.1,632.18 L991.2,632.14 L996.3,632.11 L1001.3,632.08 L1006.4,632.05 L1011.5,632.02 L1016.6,631.98 L1021.6,631.94 L1026.7,631.89 L1031.8,631.83 L1036.9,631.76 L1041.9,631.69 L1047.0,631.63 L1052.1,631.57 L1057.2,631.54 L1062.2,631.52 L1067.3,631.53 L1072.4,631.56 L1077.5,631.61 L1082.6,631.66 L1087.6,631.73 L1092.7,631.81 L1097.8,631.90 L1102.9,632.01 L1107.9,632.13 L1113.0,632.23 L1118.1,632.28 L1123.2,632.26 L1128.2,632.19 L1133.3,632.08 L1138.4,631.96 L1143.5,631.86 L1148.5,631.78 L1153.6,631.74 L1158.7,631.71 L1163.8,631.69 L1168.8,631.67 L1173.9,631.66 L1179.0,631.65 L1184.1,631.64 L1189.1,631.62 L1194.2,631.61 L1199.3,631.60 L1204.4,631.59 L1209.4,631.58 L1214.5,631.56 L1219.6,631.55 L1224.7,631.54 L1229.7,631.52 L1234.8,631.50 L1239.9,631.48 L1245.0,631.45 L1250.0,631.41 L1255.1,631.37 L1260.2,631.31 L1265.3,631.25 L1270.3,631.18 L1275.4,631.11 L1280.5,631.06 L1285.6,631.02 L1290.6,631.01 L1295.7,631.04 L1300.8,631.08 L1305.9,631.16 L1310.9,631.25 L1316.0,631.35 L1321.1,631.45 L1326.2,631.53 L1331.2,631.60 L1336.3,631.64 L1341.4,631.65 L1346.5,631.63 L1351.5,631.58 L1356.6,631.52 L1361.7,631.46 L1366.8,631.39 L1371.8,631.33 L1376.9,631.27 L1382.0,631.23 L1387.1,631.19 L1392.1,631.16 L1397.2,631.13 L1402.3,631.09 L1407.4,631.06 L1412.4,631.01 L1417.5,630.96 L1422.6,630.91 L1427.7,630.85 L1432.7,630.80 L1437.8,630.75 L1442.9,630.72 L1448.0,630.70 L1453.0,630.69 L1458.1,630.68 L1463.2,630.67 L1468.3,630.64 L1473.3,630.61 L1478.4,630.56 L1483.5,630.51 L1488.6,630.46 L1493.6,630.41 L1498.7,630.39 L1503.8,630.39 L1508.9,630.42 L1513.9,630.46 L1519.0,630.52 L1524.1,630.58 L1529.2,630.64 L1534.2,630.68 L1539.3,630.72 L1544.4,630.74 L1549.5,630.75 L1554.5,630.75 L1559.6,630.75 L1564.7,630.74 L1569.8,630.73 L1574.8,630.72 L1579.9,630.71 L1585.0,630.70" fill="none" stroke="#13405e" stroke-width="1.2"/>
<path d="M67.5,115.6 L1585,115.6" fill="none" stroke="#02141a" stroke-width="1" opacity="0.85"/>
<path d="M67.5,117.1 L1585,117.1" fill="none" stroke="#a82212" stroke-width="1.3"/>
<path d="M578.9,49 L578.9,694" stroke="#6b8ea6" stroke-width="1" stroke-dasharray="3 1.5"/>
<path d="M67.5,385.4 L1595,385.4" stroke="#6b8ea6" stroke-width="1" stroke-dasharray="3 1.5"/>
<circle cx="578.9" cy="116.8" r="4.8" fill="#c06a48" opacity="0.95"/><circle cx="578.9" cy="116.8" r="2.7" fill="#e0240a"/>
<circle cx="578.9" cy="631.4" r="4.6" fill="#0c3459" opacity="0.6"/><circle cx="578.9" cy="631.4" r="3.2" fill="#0b3358"/>
<circle cx="578.9" cy="666.8" r="4.6" fill="#c8b030" opacity="0.6"/><circle cx="578.9" cy="666.8" r="2.9" fill="#f2d20c"/>
<text x="59.3" y="697" font-size="11" fill="#c6c6d3" text-anchor="end" transform="translate(59.3 0) scale(0.96 1) translate(-59.3 0)">0 B</text>
<text x="59.3" y="663" font-size="11" fill="#c6c6d3" text-anchor="end" transform="translate(59.3 0) scale(1.0 1) translate(-59.3 0)">954 MiB</text>
<text x="59.3" y="629" font-size="11" fill="#c6c6d3" text-anchor="end" transform="translate(59.3 0) scale(0.96 1) translate(-59.3 0)">1.86 GiB</text>
<text x="59.3" y="595" font-size="11" fill="#c6c6d3" text-anchor="end" transform="translate(59.3 0) scale(0.96 1) translate(-59.3 0)">2.79 GiB</text>
<text x="59.3" y="561" font-size="11" fill="#c6c6d3" text-anchor="end" transform="translate(59.3 0) scale(0.96 1) translate(-59.3 0)">3.73 GiB</text>
<text x="59.3" y="527" font-size="11" fill="#c6c6d3" text-anchor="end" transform="translate(59.3 0) scale(0.96 1) translate(-59.3 0)">4.66 GiB</text>
<text x="59.3" y="494" font-size="11" fill="#c6c6d3" text-anchor="end" transform="translate(59.3 0) scale(0.96 1) translate(-59.3 0)">5.59 GiB</text>
<text x="59.3" y="460" font-size="11" fill="#c6c6d3" text-anchor="end" transform="translate(59.3 0) scale(0.96 1) translate(-59.3 0)">6.52 GiB</text>
<text x="59.3" y="426" font-size="11" fill="#c6c6d3" text-anchor="end" transform="translate(59.3 0) scale(0.96 1) translate(-59.3 0)">7.45 GiB</text>
<text x="59.3" y="391" font-size="11" fill="#c6c6d3" text-anchor="end" transform="translate(59.3 0) scale(0.96 1) translate(-59.3 0)">8.38 GiB</text>
<text x="59.3" y="357" font-size="11" fill="#c6c6d3" text-anchor="end" transform="translate(59.3 0) scale(0.96 1) translate(-59.3 0)">9.31 GiB</text>
<text x="59.3" y="324" font-size="11" fill="#c6c6d3" text-anchor="end" transform="translate(59.3 0) scale(0.96 1) translate(-59.3 0)">10.2 GiB</text>
<text x="59.3" y="290" font-size="11" fill="#c6c6d3" text-anchor="end" transform="translate(59.3 0) scale(0.96 1) translate(-59.3 0)">11.2 GiB</text>
<text x="59.3" y="256" font-size="11" fill="#c6c6d3" text-anchor="end" transform="translate(59.3 0) scale(0.96 1) translate(-59.3 0)">12.1 GiB</text>
<text x="59.3" y="222" font-size="11" fill="#c6c6d3" text-anchor="end" transform="translate(59.3 0) scale(0.96 1) translate(-59.3 0)">13.0 GiB</text>
<text x="59.3" y="188" font-size="11" fill="#c6c6d3" text-anchor="end" transform="translate(59.3 0) scale(0.96 1) translate(-59.3 0)">14.0 GiB</text>
<text x="59.3" y="154" font-size="11" fill="#c6c6d3" text-anchor="end" transform="translate(59.3 0) scale(0.96 1) translate(-59.3 0)">14.9 GiB</text>
<text x="59.3" y="120" font-size="11" fill="#c6c6d3" text-anchor="end" transform="translate(59.3 0) scale(0.96 1) translate(-59.3 0)">15.8 GiB</text>
<text x="59.3" y="86" font-size="11" fill="#c6c6d3" text-anchor="end" transform="translate(59.3 0) scale(0.96 1) translate(-59.3 0)">16.8 GiB</text>
<text x="59.3" y="52" font-size="11" fill="#c6c6d3" text-anchor="end" transform="translate(59.3 0) scale(0.96 1) translate(-59.3 0)">17.7 GiB</text>
<text x="185.4" y="709.6" font-size="11.3" fill="#c6c6d3" text-anchor="middle">11:45</text>
<text x="439.2" y="709.6" font-size="11.3" fill="#c6c6d3" text-anchor="middle">11:50</text>
<text x="693.5" y="709.6" font-size="11.3" fill="#c6c6d3" text-anchor="middle">11:55</text>
<text x="948.4" y="709.6" font-size="11.3" fill="#c6c6d3" text-anchor="middle">12:00</text>
<text x="1203.3" y="709.6" font-size="11.3" fill="#c6c6d3" text-anchor="middle">12:05</text>
<text x="1457.6" y="709.6" font-size="11.3" fill="#c6c6d3" text-anchor="middle">12:10</text>
<rect x="32.8" y="722" width="13.5" height="4" rx="1" fill="#E0F9D7"/>
<text x="52.5" y="727.1" font-size="11.5" fill="#c6c6d3" textLength="50.6" lengthAdjust="spacingAndGlyphs">RAM Total</text>
<rect x="112.5" y="722" width="13.5" height="4" rx="1" fill="#F2CC0C"/>
<text x="131.9" y="727.1" font-size="11.5" fill="#c6c6d3" textLength="50.9" lengthAdjust="spacingAndGlyphs">RAM Used</text>
<rect x="193" y="722" width="13.5" height="4" rx="1" fill="#052B51"/>
<text x="211.6" y="727.1" font-size="11.5" fill="#c6c6d3" textLength="99.4" lengthAdjust="spacingAndGlyphs">RAM Cache + Buffer</text>
<rect x="319.7" y="722" width="13.5" height="4" rx="1" fill="#7EB26D"/>
<text x="339.7" y="727.1" font-size="11.5" fill="#c6c6d3" textLength="47.8" lengthAdjust="spacingAndGlyphs">RAM Free</text>
<rect x="396" y="722" width="13.5" height="4" rx="1" fill="#C8220E"/>
<text x="415.6" y="727.1" font-size="11.5" fill="#c6c6d3" textLength="57.8" lengthAdjust="spacingAndGlyphs">SWAP Used</text>
</svg>
<div style="position:absolute;left:587.6px;top:394px;width:189px;height:111px;background:#22252b;border-radius:2px;box-shadow:0 4px 8px rgba(0,0,0,0.6);"></div>
<svg width="1600" height="742" viewBox="0 0 1600 742" font-family='"Liberation Sans", sans-serif' style="position:absolute;left:0;top:0">
<text x="594.5" y="413" font-size="11.3" style="stroke-width:0.6px" fill="#c6c6d3" textLength="103.5" lengthAdjust="spacingAndGlyphs">2024-06-05 11:52:45</text>
<rect x="594.3" y="424.1" width="13" height="4" rx="1" fill="#E0F9D7"/>
<text x="614.5" y="428.7" font-size="11" fill="#c6c6d3" textLength="50.5" lengthAdjust="spacingAndGlyphs">RAM Total</text>
<text x="727.8" y="428.7" font-size="11" fill="#c6c6d3" textLength="40.7" lengthAdjust="spacingAndGlyphs">15.9 GiB</text>
<rect x="594.3" y="440.2" width="13" height="4" rx="1" fill="#F2CC0C"/>
<text x="614.5" y="444.8" font-size="11" fill="#c6c6d3" textLength="50.5" lengthAdjust="spacingAndGlyphs">RAM Used</text>
<text x="727.8" y="444.8" font-size="11" fill="#c6c6d3" textLength="39.9" lengthAdjust="spacingAndGlyphs">770 MiB</text>
<rect x="594.3" y="456.4" width="13" height="4" rx="1" fill="#052B51"/>
<text x="614.5" y="461.0" font-size="11" fill="#c6c6d3" textLength="98.5" lengthAdjust="spacingAndGlyphs">RAM Cache + Buffer</text>
<text x="727.8" y="461.0" font-size="11" fill="#c6c6d3" textLength="39.9" lengthAdjust="spacingAndGlyphs">981 MiB</text>
<rect x="594.3" y="472.5" width="13" height="4" rx="1" fill="#7EB26D"/>
<text x="614.5" y="477.1" font-size="11" fill="#c6c6d3" textLength="47.2" lengthAdjust="spacingAndGlyphs">RAM Free</text>
<text x="727.8" y="477.1" font-size="11" fill="#c6c6d3" textLength="40.7" lengthAdjust="spacingAndGlyphs">14.1 GiB</text>
<rect x="594.3" y="488.7" width="13" height="4" rx="1" fill="#C8220E"/>
<text x="614.5" y="493.3" font-size="11" fill="#c6c6d3" textLength="57.4" lengthAdjust="spacingAndGlyphs">SWAP Used</text>
<text x="727.8" y="493.3" font-size="11" fill="#c6c6d3" textLength="15.6" lengthAdjust="spacingAndGlyphs">0 B</text>
</svg></body></html>
